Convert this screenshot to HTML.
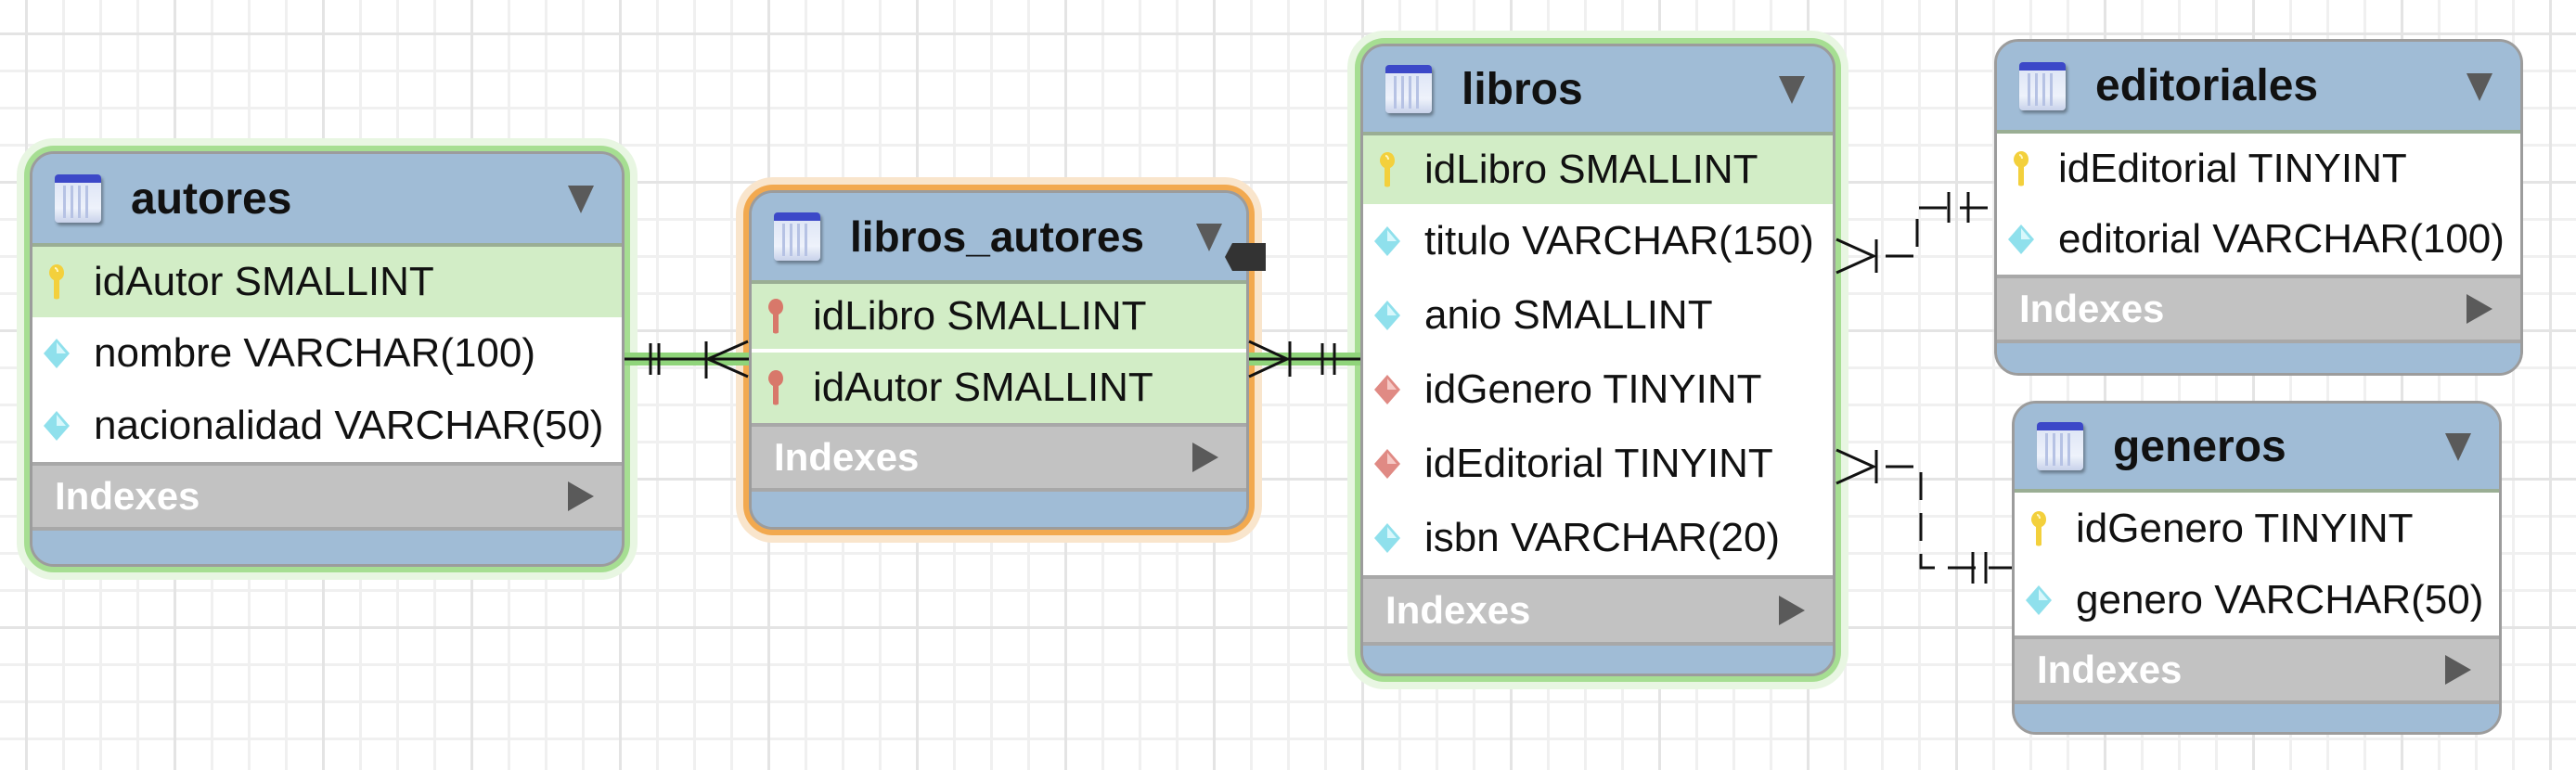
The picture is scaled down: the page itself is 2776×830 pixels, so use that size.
<!DOCTYPE html>
<html><head><meta charset="utf-8"><style>
*{box-sizing:border-box;margin:0;padding:0}
body{width:2776px;height:830px;overflow:hidden;position:relative;font-family:"Liberation Sans",Arial,sans-serif;
background-color:#fff;
background-image:
linear-gradient(to right,#e4e4e4 3px,transparent 3px),
linear-gradient(to bottom,#e4e4e4 3px,transparent 3px),
linear-gradient(to right,#f0f0f0 3px,transparent 3px),
linear-gradient(to bottom,#f0f0f0 3px,transparent 3px);
background-size:160px 160px,160px 160px,40px 40px,40px 40px;
background-position:27px 0,0 35px,27px 0,0 35px;}
.t{position:absolute;border:3px solid #9c9c9c;border-radius:26px;overflow:hidden;background:#a0bcd6;display:flex;flex-direction:column}
.g{box-shadow:0 0 0 6px #a6de92,0 0 0 14px #e8f6e2}
.o{box-shadow:0 0 0 6px #f2a94f,0 0 0 14px #f9e5cc}
.h{background:#a0bcd6;position:relative;font-weight:bold;font-size:48px;color:#111;display:flex;align-items:center;padding-left:106px;border-bottom:4px solid #9aae94;white-space:nowrap}
.h .ic{position:absolute;left:24px;top:50%;margin-top:-26px;width:50px;height:52px;border-radius:4px;
background:linear-gradient(to bottom,#3c48c8 0,#3c48c8 9px,#dfe6f6 9px,#eef2fb 70%,#c8d2ea 100%);box-shadow:2px 3px 3px rgba(0,0,0,.35)}
.h .ic:after{content:"";position:absolute;left:9px;right:9px;top:12px;bottom:5px;background:repeating-linear-gradient(to right,#b6c2e4 0,#b6c2e4 3px,transparent 3px,transparent 8px)}
.h .ar{position:absolute;right:30px;top:50%;margin-top:-14px;width:0;height:0;border-left:14px solid transparent;border-right:14px solid transparent;border-top:30px solid #5a5a5a}
.r{background:#fff;font-size:44px;color:#111;display:flex;align-items:center;padding-left:66px;position:relative;white-space:nowrap}
.r.pk{background:#d2edc6}
.r svg{position:absolute;left:16px;top:50%;margin-top:-20px}
.ix{background:#c2c2c2;border-top:4px solid #a8a8a8;border-bottom:4px solid #a8a8a8;color:#fff;font-weight:bold;font-size:42px;display:flex;align-items:center;padding-left:24px;position:relative}
.ix:after{content:"";position:absolute;right:30px;top:50%;margin-top:-16px;border-top:16px solid transparent;border-bottom:16px solid transparent;border-left:28px solid #5a5a5a}
.b{flex:1;background:#a0bcd6}
</style></head><body>

<svg width="0" height="0" style="position:absolute">
<defs>
<symbol id="ky" viewBox="0 0 20 40"><path d="M10 1c5 0 8 4 8 9s-3 7-5 8v19c0 2-6 2-6 0v-19c-2-1-5-4-5-8s3-9 8-9z" fill="#f3d03c"/><path d="M8 5c2 0 3 2 3 4" stroke="#fff8c0" stroke-width="2" fill="none"/></symbol>
<symbol id="rk" viewBox="0 0 20 40"><path d="M10 1c5 0 8 4 8 9s-3 7-5 8v19c0 2-6 2-6 0v-19c-2-1-5-4-5-8s3-9 8-9z" fill="#d8786a"/></symbol>
<symbol id="dc" viewBox="0 0 40 40"><path d="M20 4L34 20 20 36 6 20z" fill="#8fe0ec"/><path d="M20 8L30 20 20 20z" fill="#d8f8fc"/></symbol>
<symbol id="dr" viewBox="0 0 40 40"><path d="M20 4L34 20 20 36 6 20z" fill="#e08a84"/><path d="M20 8L30 20 20 20z" fill="#f6c8c4"/></symbol>
</defs></svg>

<!-- autores -->
<div class="t g" style="left:32px;top:163px;width:641px;height:448px">
<div class="h" style="height:100px"><span class="ic"></span>autores<span class="ar"></span></div>
<div class="r pk" style="height:76px"><svg width="20" height="40"><use href="#ky"/></svg>idAutor SMALLINT</div>
<div class="r" style="height:78px"><svg width="40" height="40" style="left:6px"><use href="#dc"/></svg>nombre VARCHAR(100)</div>
<div class="r" style="height:78px"><svg width="40" height="40" style="left:6px"><use href="#dc"/></svg>nacionalidad VARCHAR(50)</div>
<div class="ix" style="height:74px">Indexes</div>
<div class="b"></div>
</div>

<!-- libros_autores -->
<div class="t o" style="left:807px;top:205px;width:539px;height:366px">
<div class="h" style="height:98px;font-size:46px"><span class="ic"></span>libros_autores<span class="ar" style="right:26px"></span></div>
<div class="r pk" style="height:74px;border-bottom:4px solid #fff"><svg width="20" height="40"><use href="#rk"/></svg>idLibro SMALLINT</div>
<div class="r pk" style="height:76px"><svg width="20" height="40"><use href="#rk"/></svg>idAutor SMALLINT</div>
<div class="ix" style="height:74px">Indexes</div>
<div class="b"></div>
</div>
<svg style="position:absolute;left:1318px;top:260px" width="50" height="34"><path d="M10 2H46V32H10L2 17z" fill="#333"/></svg>

<!-- libros -->
<div class="t g" style="left:1466px;top:47px;width:512px;height:682px">
<div class="h" style="height:96px"><span class="ic"></span>libros<span class="ar"></span></div>
<div class="r pk" style="height:74px"><svg width="20" height="40"><use href="#ky"/></svg>idLibro SMALLINT</div>
<div class="r" style="height:80px"><svg width="40" height="40" style="left:6px"><use href="#dc"/></svg>titulo VARCHAR(150)</div>
<div class="r" style="height:80px"><svg width="40" height="40" style="left:6px"><use href="#dc"/></svg>anio SMALLINT</div>
<div class="r" style="height:80px"><svg width="40" height="40" style="left:6px"><use href="#dr"/></svg>idGenero TINYINT</div>
<div class="r" style="height:80px"><svg width="40" height="40" style="left:6px"><use href="#dr"/></svg>idEditorial TINYINT</div>
<div class="r" style="height:80px"><svg width="40" height="40" style="left:6px"><use href="#dc"/></svg>isbn VARCHAR(20)</div>
<div class="ix" style="height:76px">Indexes</div>
<div class="b"></div>
</div>

<!-- editoriales -->
<div class="t" style="left:2149px;top:42px;width:570px;height:363px">
<div class="h" style="height:99px"><span class="ic"></span>editoriales<span class="ar"></span></div>
<div class="r" style="height:76px"><svg width="20" height="40"><use href="#ky"/></svg>idEditorial TINYINT</div>
<div class="r" style="height:76px"><svg width="40" height="40" style="left:6px"><use href="#dc"/></svg>editorial VARCHAR(100)</div>
<div class="ix" style="height:74px">Indexes</div>
<div class="b"></div>
</div>

<!-- generos -->
<div class="t" style="left:2168px;top:432px;width:528px;height:360px">
<div class="h" style="height:96px"><span class="ic"></span>generos<span class="ar"></span></div>
<div class="r" style="height:78px"><svg width="20" height="40"><use href="#ky"/></svg>idGenero TINYINT</div>
<div class="r" style="height:76px"><svg width="40" height="40" style="left:6px"><use href="#dc"/></svg>genero VARCHAR(50)</div>
<div class="ix" style="height:74px">Indexes</div>
<div class="b"></div>
</div>

<!-- connectors -->
<svg style="position:absolute;left:0;top:0" width="2776" height="830">
<g>
<rect x="673" y="380" width="134" height="14" fill="#8fd47a"/>
<rect x="1346" y="380" width="120" height="14" fill="#8fd47a"/>
</g>
<g stroke="#111" stroke-width="3" fill="none">
<line x1="673" y1="387" x2="807" y2="387"/>
<line x1="701" y1="370" x2="701" y2="404"/>
<line x1="710" y1="370" x2="710" y2="404"/>
<line x1="761" y1="368" x2="761" y2="408"/>
<polyline points="806,368 763,387 806,406"/>

<line x1="1346" y1="387" x2="1466" y2="387"/>
<polyline points="1346,368 1387,387 1346,406"/>
<line x1="1390" y1="368" x2="1390" y2="406"/>
<line x1="1425" y1="370" x2="1425" y2="404"/>
<line x1="1438" y1="370" x2="1438" y2="404"/>

<polyline points="1979,258 2019,276 1979,294"/>
<line x1="2022" y1="258" x2="2022" y2="294"/>
<polyline points="2032,276 2066,276 2066,224 2149,224" stroke-dasharray="30,14"/>
<line x1="2100" y1="207" x2="2100" y2="240"/>
<line x1="2121" y1="207" x2="2121" y2="240"/>

<polyline points="1979,485 2019,503 1979,521"/>
<line x1="2022" y1="485" x2="2022" y2="521"/>
<polyline points="2032,503 2070,503 2070,612 2168,612" stroke-dasharray="30,14"/>
<line x1="2126" y1="595" x2="2126" y2="629"/>
<line x1="2140" y1="595" x2="2140" y2="629"/>
</g>
</svg>
</body></html>
